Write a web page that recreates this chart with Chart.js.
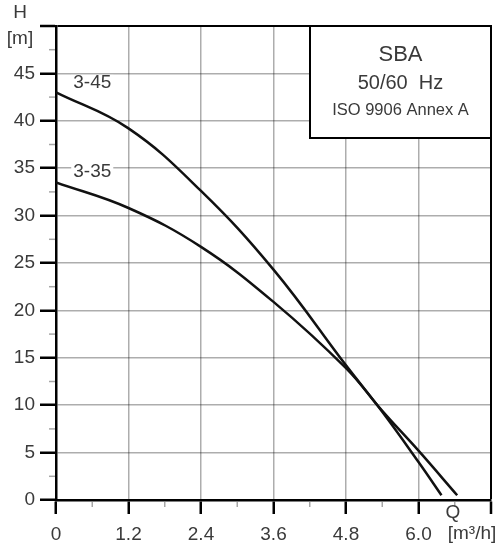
<!DOCTYPE html>
<html>
<head>
<meta charset="utf-8">
<title>SBA pump curves</title>
<script src="https://cdn.jsdelivr.net/npm/chart.js@4"></script>
<style>
  body { margin: 0; background: #fff; }
  canvas { display: block; }
</style>
</head>
<body>
<canvas id="pumpChart" width="500" height="551"></canvas>
<script>
// curve 3-45
const flow45 = [0, 1.2, 2.4, 3.6, 4.8, 5.4, 6.0, 6.38];
const head45 = [43.0, 39.2, 32.6, 24.3, 14.2, 9.3, 4.0, 0.5];
// curve 3-35
const flow35 = [0, 1.2, 2.4, 3.6, 4.8, 5.4, 6.0, 6.64];
const head35 = [33.5, 30.8, 26.7, 20.9, 13.9, 9.4, 5.2, 0.5];

const curveNames = ['3-45', '3-35'];
const xTicks = [0, 1.2, 2.4, 3.6, 4.8, 6.0];
const yTicks = [0, 5, 10, 15, 20, 25, 30, 35, 40, 45];
const infoLines = ['SBA', '50/60  Hz', 'ISO 9906 Annex A'];

const FONT = '"Liberation Sans", Arial, sans-serif';
const TEXT = '#3a3a3a';
const GRID = 'rgba(0,0,0,0.32)';

function toPoints(xs, ys) {
    return xs.map((x, i) => ({ x: x, y: ys[i] }));
}

const extras = {
    id: 'extras',
    beforeDatasetsDraw(chart) {
        const ctx = chart.ctx;
        const x = chart.scales.x, y = chart.scales.y;
        const a = chart.chartArea;
        ctx.save();
        // minor ticks
        ctx.strokeStyle = 'rgba(0,0,0,0.35)';
        ctx.lineWidth = 1.5;
        for (let v = 2.5; v < 50; v += 5) {
            const py = y.getPixelForValue(v);
            ctx.beginPath(); ctx.moveTo(a.left - 7, py); ctx.lineTo(a.left, py); ctx.stroke();
        }
        for (let v = 0.6; v < 7.2; v += 1.2) {
            const px = x.getPixelForValue(v);
            ctx.beginPath(); ctx.moveTo(px, a.bottom + 2); ctx.lineTo(px, a.bottom + 7); ctx.stroke();
        }
        // info box
        const bx = 310, by = a.top, bw = a.right - 310, bh = 112;
        ctx.fillStyle = '#fff';
        ctx.fillRect(bx, by, bw, bh);
        ctx.strokeStyle = '#000';
        ctx.lineWidth = 2;
        ctx.strokeRect(bx, by, bw, bh);
        ctx.fillStyle = TEXT;
        ctx.textAlign = 'center';
        ctx.textBaseline = 'middle';
        const cx = bx + bw / 2;
        ctx.font = '22px ' + FONT; ctx.fillText(infoLines[0], cx, 55);
        ctx.font = '20px ' + FONT; ctx.fillText(infoLines[1], cx, 83);
        ctx.font = '16.5px ' + FONT; ctx.fillText(infoLines[2], cx, 110);
        // curve names
        ctx.font = '19px ' + FONT;
        [[curveNames[0], 0.6, 44.0], [curveNames[1], 0.6, 34.6]].forEach(([t, qx, hy]) => {
            const px = x.getPixelForValue(qx), py = y.getPixelForValue(hy);
            const w = ctx.measureText(t).width;
            ctx.fillStyle = '#fff';
            ctx.fillRect(px - w / 2 - 2, py - 8, w + 4, 16);
            ctx.fillStyle = TEXT;
            ctx.fillText(t, px, py);
        });
        ctx.restore();
    },
    afterDraw(chart) {
        const ctx = chart.ctx;
        ctx.save();
        ctx.fillStyle = TEXT;
        ctx.font = '19px ' + FONT;
        ctx.textAlign = 'center';
        ctx.textBaseline = 'middle';
        ctx.fillText('H', 20, 13);
        ctx.fillText('[m]', 20, 39);
        ctx.fillText('Q', 453, 513);
        ctx.fillText('[m³/h]', 472, 534);
        ctx.restore();
    }
};

new Chart(document.getElementById('pumpChart').getContext('2d'), {
    type: 'scatter',
    data: {
        datasets: [
            { label: curveNames[0], data: toPoints(flow45, head45) },
            { label: curveNames[1], data: toPoints(flow35, head35) }
        ]
    },
    options: {
        responsive: false,
        animation: false,
        showLine: true,
        layout: { padding: { top: 26, right: 8, left: 0, bottom: 0 } },
        elements: {
            point: { radius: 0 },
            line: { borderColor: '#111', borderWidth: 2.5, tension: 0.4, fill: false }
        },
        plugins: { legend: { display: false }, tooltip: { enabled: false } },
        scales: {
            x: {
                type: 'linear', min: 0, max: 7.2,
                afterFit(s) { s.height = 51; },
                afterBuildTicks(s) { s.ticks = xTicks.concat([7.2]).map(v => ({ value: v })); },
                border: { color: '#000', width: 2.5 },
                grid: {
                    color: c => c.tick && c.tick.value === 7.2 ? '#000' : GRID,
                    lineWidth: c => c.tick && c.tick.value === 7.2 ? 2 : 1.5,
                    tickColor: '#000', tickWidth: 2.5, tickLength: 14
                },
                ticks: {
                    color: TEXT, font: { family: FONT, size: 19 }, padding: 9, maxRotation: 0,
                    callback: v => v === 0 ? '0' : (v > 7 ? '' : v.toFixed(1))
                }
            },
            y: {
                type: 'linear', min: 0, max: 50,
                afterFit(s) { s.width = 56; },
                afterBuildTicks(s) { s.ticks = yTicks.concat([50]).map(v => ({ value: v })); },
                border: { color: '#000', width: 2.5 },
                grid: {
                    color: c => c.tick && c.tick.value === 50 ? '#000' : GRID,
                    lineWidth: c => c.tick && c.tick.value === 50 ? 2 : 1.5,
                    tickColor: '#000', tickWidth: 2.5, tickLength: 16
                },
                ticks: {
                    color: TEXT, font: { family: FONT, size: 19 }, padding: 5,
                    callback: v => v === 50 ? '' : String(v)
                }
            }
        }
    },
    plugins: [extras]
});
</script>
</body>
</html>
